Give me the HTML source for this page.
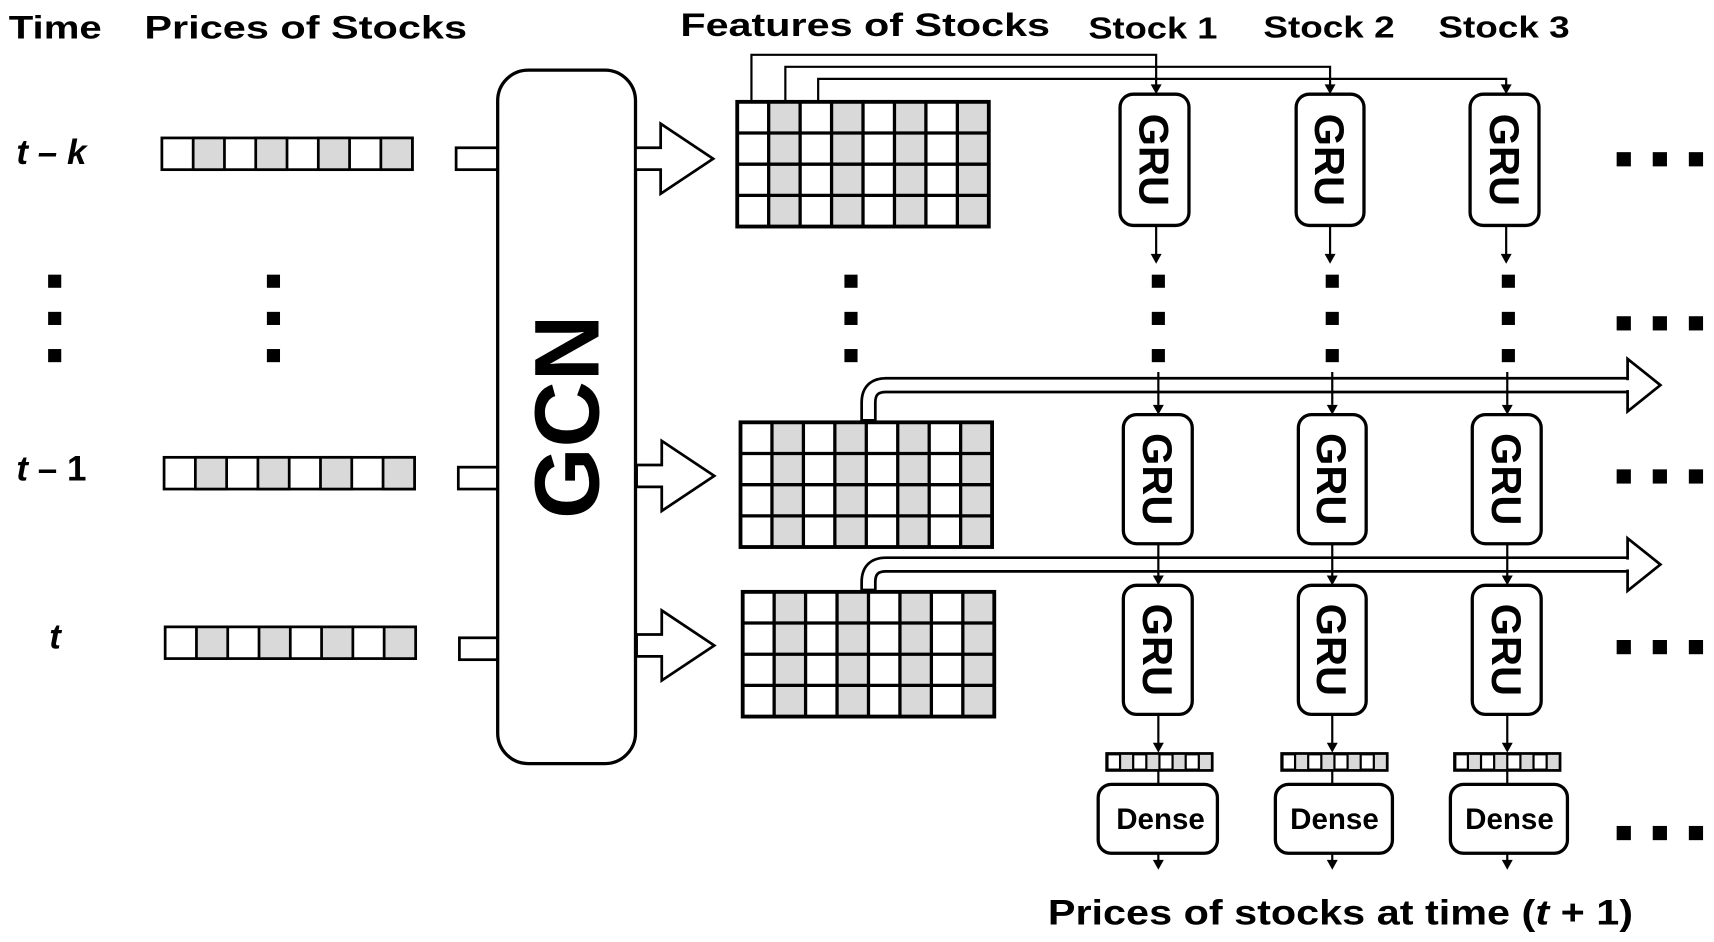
<!DOCTYPE html>
<html><head><meta charset="utf-8"><style>
html,body{margin:0;padding:0;background:#fff;}
svg{display:block;}
text{font-family:"Liberation Sans",Arial,sans-serif;font-weight:bold;fill:#000;}
</style></head><body>
<svg width="1714" height="942" viewBox="0 0 1567 861" xmlns="http://www.w3.org/2000/svg">
<defs>
<g id="bar">
<rect x="0" y="0" width="229" height="29" fill="#fff" stroke="#000" stroke-width="2.5"/>
<rect x="28.6" y="0" width="28.6" height="29" fill="#d9d9d9" stroke="#000" stroke-width="2.5"/>
<rect x="85.8" y="0" width="28.6" height="29" fill="#d9d9d9" stroke="#000" stroke-width="2.5"/>
<rect x="143" y="0" width="28.6" height="29" fill="#d9d9d9" stroke="#000" stroke-width="2.5"/>
<rect x="200.2" y="0" width="28.8" height="29" fill="#d9d9d9" stroke="#000" stroke-width="2.5"/>
</g>
<g id="sbar">
<rect x="0" y="0" width="96" height="15" fill="#fff" stroke="#000" stroke-width="3"/>
<rect x="12" y="0" width="12" height="15" fill="#d9d9d9" stroke="#000" stroke-width="2"/>
<rect x="36" y="0" width="12" height="15" fill="#d9d9d9" stroke="#000" stroke-width="2"/>
<rect x="60" y="0" width="12" height="15" fill="#d9d9d9" stroke="#000" stroke-width="2"/>
<rect x="84" y="0" width="12" height="15" fill="#d9d9d9" stroke="#000" stroke-width="2"/>
</g>
<g id="grid">
<rect x="0" y="0" width="230" height="114" fill="#fff"/>
<rect x="28.75" y="0" width="28.75" height="114" fill="#d9d9d9"/>
<rect x="86.25" y="0" width="28.75" height="114" fill="#d9d9d9"/>
<rect x="143.75" y="0" width="28.75" height="114" fill="#d9d9d9"/>
<rect x="201.25" y="0" width="28.75" height="114" fill="#d9d9d9"/>
<path d="M28.75 0V114M57.5 0V114M86.25 0V114M115 0V114M143.75 0V114M172.5 0V114M201.25 0V114M0 28.5H230M0 57H230M0 85.5H230" stroke="#000" stroke-width="3"/>
<rect x="0" y="0" width="230" height="114" fill="none" stroke="#000" stroke-width="3.5"/>
</g>
<g id="blk">
<polygon points="0,-10 23,-10 23,-32 71,0 23,32 23,10 0,10" fill="#fff" stroke="#000" stroke-width="2.5"/>
</g>
<g id="dots3"><rect x="-6" y="-6" width="12" height="12"/><rect x="-6" y="28" width="12" height="12"/><rect x="-6" y="62" width="12" height="12"/></g>
<g id="hdots"><rect x="0" y="-6" width="13" height="13"/><rect x="33" y="-6" width="13" height="13"/><rect x="66" y="-6" width="13" height="13"/></g>
</defs>

<text x="8" y="35" font-size="30" textLength="85" lengthAdjust="spacingAndGlyphs">Time</text>
<text x="132" y="35" font-size="30" textLength="295" lengthAdjust="spacingAndGlyphs">Prices of Stocks</text>
<text x="622" y="33" font-size="30" textLength="338" lengthAdjust="spacingAndGlyphs">Features of Stocks</text>
<text x="995" y="35" font-size="28" textLength="118" lengthAdjust="spacingAndGlyphs">Stock 1</text>
<text x="1155" y="34" font-size="28" textLength="120" lengthAdjust="spacingAndGlyphs">Stock 2</text>
<text x="1315" y="34" font-size="28" textLength="120" lengthAdjust="spacingAndGlyphs">Stock 3</text>

<text x="15" y="150" font-size="32" font-style="italic">t – k</text>
<text x="15" y="439" font-size="32"><tspan font-style="italic">t</tspan> – 1</text>
<text x="45" y="593" font-size="32" font-style="italic">t</text>

<use href="#dots3" x="50" y="257"/>
<use href="#dots3" x="250" y="257"/>
<use href="#dots3" x="778" y="257"/>

<use href="#bar" x="148" y="126"/>
<use href="#bar" x="150" y="418"/>
<use href="#bar" x="151" y="573"/>

<rect x="417" y="135" width="40" height="20" fill="#fff" stroke="#000" stroke-width="2.5"/>
<rect x="419" y="427" width="38" height="20" fill="#fff" stroke="#000" stroke-width="2.5"/>
<rect x="420" y="583" width="37" height="20" fill="#fff" stroke="#000" stroke-width="2.5"/>

<rect x="455" y="64" width="126" height="634" rx="28" fill="#fff" stroke="#000" stroke-width="3"/>
<text x="0" y="0" font-size="84" text-anchor="middle" transform="translate(547,381) rotate(-90)">GCN</text>

<use href="#blk" x="581" y="145"/>
<use href="#blk" x="582" y="435"/>
<use href="#blk" x="582" y="590"/>

<use href="#grid" x="674" y="93"/>
<use href="#grid" x="677" y="386"/>
<use href="#grid" x="679" y="541"/>

<g fill="none" stroke="#000" stroke-width="2">
<path d="M687 93V50H1057V80"/>
<path d="M718 93V61H1216V80"/>
<path d="M748 93V72H1377V80"/>
</g>
<g>
<polygon points="1052,77 1062,77 1057,86"/>
<polygon points="1211,77 1221,77 1216,86"/>
<polygon points="1372,77 1382,77 1377,86"/>
</g>

<path d="M794 386V368Q794 352 810 352H1492" fill="none" stroke="#000" stroke-width="15"/>
<path d="M794 383V368Q794 352 810 352H1494" fill="none" stroke="#fff" stroke-width="10"/>
<polygon points="1488,328 1518,352 1488,376" fill="#fff" stroke="#000" stroke-width="2.5"/>
<rect x="1486" y="347.5" width="4" height="9" fill="#fff"/>
<path d="M794 541V532Q794 516 810 516H1492" fill="none" stroke="#000" stroke-width="15"/>
<path d="M794 538V532Q794 516 810 516H1494" fill="none" stroke="#fff" stroke-width="10"/>
<polygon points="1488,492 1518,516 1488,540" fill="#fff" stroke="#000" stroke-width="2.5"/>
<rect x="1486" y="511.5" width="4" height="9" fill="#fff"/>

<g stroke="#000" stroke-width="2">
<path d="M1057 206V234M1216 206V234M1377 206V234"/>
<path d="M1059 340V370M1218 340V370M1378 340V370"/>
<path d="M1059 497V527M1218 497V527M1378 497V527"/>
<path d="M1059 653V680M1218 653V680M1378 653V680"/>
<path d="M1059 704V717M1218 704V717M1378 704V717"/>
<path d="M1059 780V788M1218 780V788M1378 780V788"/>
</g>
<g>
<polygon points="1052,232 1062,232 1057,241"/><polygon points="1211,232 1221,232 1216,241"/><polygon points="1372,232 1382,232 1377,241"/>
<polygon points="1054,370 1064,370 1059,379"/><polygon points="1213,370 1223,370 1218,379"/><polygon points="1373,370 1383,370 1378,379"/>
<polygon points="1054,526 1064,526 1059,535"/><polygon points="1213,526 1223,526 1218,535"/><polygon points="1373,526 1383,526 1378,535"/>
<polygon points="1054,679 1064,679 1059,688"/><polygon points="1213,679 1223,679 1218,688"/><polygon points="1373,679 1383,679 1378,688"/>
<polygon points="1054,786 1064,786 1059,795"/><polygon points="1213,786 1223,786 1218,795"/><polygon points="1373,786 1383,786 1378,795"/>
</g>
<use href="#dots3" x="1059" y="257"/>
<use href="#dots3" x="1218" y="257"/>
<use href="#dots3" x="1379" y="257"/>

<g fill="#fff" stroke="#000" stroke-width="3">
<rect x="1024" y="86" width="63" height="120" rx="12"/>
<rect x="1185" y="86" width="62" height="120" rx="12"/>
<rect x="1344" y="86" width="63" height="120" rx="12"/>
<rect x="1027" y="379" width="63" height="118" rx="12"/>
<rect x="1187" y="379" width="62" height="118" rx="12"/>
<rect x="1346" y="379" width="63" height="118" rx="12"/>
<rect x="1027" y="535" width="63" height="118" rx="12"/>
<rect x="1187" y="535" width="62" height="118" rx="12"/>
<rect x="1346" y="535" width="63" height="118" rx="12"/>
</g>
<g font-size="38">
<text transform="translate(1042,146) rotate(90)" text-anchor="middle">GRU</text>
<text transform="translate(1202,146) rotate(90)" text-anchor="middle">GRU</text>
<text transform="translate(1362,146) rotate(90)" text-anchor="middle">GRU</text>
<text transform="translate(1045,438) rotate(90)" text-anchor="middle">GRU</text>
<text transform="translate(1204,438) rotate(90)" text-anchor="middle">GRU</text>
<text transform="translate(1364,438) rotate(90)" text-anchor="middle">GRU</text>
<text transform="translate(1045,594) rotate(90)" text-anchor="middle">GRU</text>
<text transform="translate(1204,594) rotate(90)" text-anchor="middle">GRU</text>
<text transform="translate(1364,594) rotate(90)" text-anchor="middle">GRU</text>
</g>

<use href="#sbar" x="1012" y="689"/>
<use href="#sbar" x="1172" y="689"/>
<use href="#sbar" x="1330" y="689"/>

<g fill="#fff" stroke="#000" stroke-width="3">
<rect x="1004" y="717" width="109" height="63" rx="12"/>
<rect x="1166" y="717" width="107" height="63" rx="12"/>
<rect x="1326" y="717" width="107" height="63" rx="12"/>
</g>
<g font-size="27" text-anchor="middle">
<text x="1061" y="758">Dense</text>
<text x="1220" y="758">Dense</text>
<text x="1380" y="758">Dense</text>
</g>

<use href="#hdots" x="1478" y="145"/>
<use href="#hdots" x="1478" y="295"/>
<use href="#hdots" x="1478" y="435"/>
<use href="#hdots" x="1478" y="591"/>
<use href="#hdots" x="1478" y="761"/>

<text x="958" y="845" font-size="32" textLength="535" lengthAdjust="spacingAndGlyphs">Prices of stocks at time (<tspan font-style="italic">t</tspan> + 1)</text>
</svg>
</body></html>
